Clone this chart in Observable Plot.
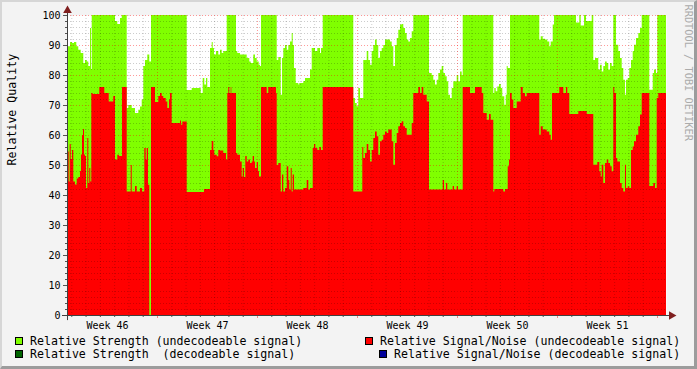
<!DOCTYPE html>
<html><head><meta charset="utf-8">
<script src="https://cdn.jsdelivr.net/npm/d3@7"></script>
<script src="https://cdn.jsdelivr.net/npm/@observablehq/plot@0.6"></script>
<style>
html,body{margin:0;padding:0;background:#F3F3F3;}
#wrap{position:relative;width:697px;height:369px;background:#F3F3F3;overflow:hidden;font-family:"DejaVu Sans Mono",monospace;}
#chart{position:absolute;left:0;top:0;}
#frame{position:absolute;left:0;top:0;width:697px;height:369px;box-sizing:border-box;border-top:2px solid #D6D6D6;border-left:2px solid #D6D6D6;border-right:3px solid #9C9C9C;border-bottom:3px solid #9C9C9C;pointer-events:none;}
.lg{position:absolute;font-size:11.6px;line-height:14px;white-space:pre;color:#000;}
.bx{position:absolute;width:6px;height:6px;border:1px solid #000;}
</style></head>
<body>
<div id="wrap">
  <div id="chart"></div>
  <div class="bx" style="left:15px;top:337px;background:#80FF00"></div>
  <div class="lg" style="left:30px;top:334px">Relative Strength (undecodeable signal)</div>
  <div class="bx" style="left:15px;top:350px;background:#006400"></div>
  <div class="lg" style="left:30px;top:347px">Relative Strength  (decodeable signal)</div>
  <div class="bx" style="left:365px;top:337px;background:#FF0000"></div>
  <div class="lg" style="left:380px;top:334px">Relative Signal/Noise (undecodeable signal)</div>
  <div class="bx" style="left:379px;top:350px;background:#000099"></div>
  <div class="lg" style="left:394px;top:347px">Relative Signal/Noise (decodeable signal)</div>
  <div id="frame"></div>
</div>
<script>
// time in days since Monday of week 46; values in percent
const strength = [[0.70,87],[0.77,89.6],[0.91,91],[1.05,90.7],[1.19,91],[1.35,89.6],[1.49,88.4],[1.66,87.3],[1.84,84],[1.96,85],[2.08,84.5],[2.19,83],[2.31,95.7],[2.38,82],[2.43,100],[4.06,98],[4.22,97],[4.41,99],[4.53,100],[4.88,69],[4.99,70],[5.23,69],[5.46,67.3],[5.69,68.4],[5.81,69.5],[5.93,71.8],[6.04,83],[6.16,85],[6.32,86.8],[6.46,84.5],[6.58,100],[9.08,75],[9.43,75.7],[10.06,74],[10.20,79],[10.31,76.8],[10.43,79],[10.52,76],[10.71,89],[10.83,91],[10.90,89],[10.99,86.8],[11.13,88],[11.29,86.8],[11.41,88.4],[11.53,87.3],[11.64,88],[11.88,100],[12.53,88],[12.62,87.3],[12.81,86.8],[13.28,85.7],[13.46,84.5],[13.56,84],[13.74,86.8],[13.86,85.7],[13.98,84.5],[14.12,83.4],[14.21,83],[14.28,100],[15.38,85],[15.49,86],[15.66,73.4],[15.75,85.7],[15.84,89],[15.96,90],[16.08,88.4],[16.19,90],[16.31,91.2],[16.43,94],[16.50,90],[16.59,82.3],[16.71,77.3],[16.89,76.8],[16.96,77.3],[17.24,78],[17.36,79],[17.59,79],[17.71,81.8],[17.83,89],[18.06,88],[18.22,89],[18.41,87.3],[18.48,89],[18.60,100],[20.74,72.3],[20.86,70.7],[20.98,69.6],[21.09,75.7],[21.21,72.3],[21.44,85],[21.68,88],[21.79,85],[21.91,83.4],[22.03,88],[22.14,90],[22.26,91.8],[22.38,90],[22.49,85.7],[22.61,88],[22.73,89],[22.84,90],[22.96,91.8],[23.31,91.2],[23.43,89.6],[23.54,83],[23.66,90],[23.78,92.3],[23.89,95.1],[24.01,96.8],[24.13,97],[24.24,95.7],[24.36,94],[24.48,91.8],[24.59,91.2],[24.71,92.3],[24.83,94.6],[24.94,100],[26.04,80.7],[26.23,80],[26.34,78.4],[26.46,76.8],[26.58,78.4],[26.69,80.7],[26.81,81.8],[26.93,83],[27.04,80.7],[27.16,79.6],[27.28,77.9],[27.39,73.4],[27.51,72.3],[27.63,75.7],[27.74,77.9],[27.98,80],[28.09,77.9],[28.21,81.2],[28.33,80],[28.40,100],[30.54,74],[30.61,75.7],[30.71,74.6],[30.82,76.2],[30.94,77],[31.06,75.7],[31.17,72.9],[31.31,70.1],[31.41,73.4],[31.48,83],[31.55,82.3],[31.71,100],[33.76,91.8],[33.86,92.9],[34.00,92.1],[34.16,91.8],[34.32,91.2],[34.46,89.6],[34.56,91.2],[34.70,96.8],[34.79,100],[36.33,97.5],[36.56,100],[36.66,96.5],[36.89,100],[37.03,98],[37.43,100],[37.54,85],[37.66,85.7],[37.89,81.8],[38.01,83.4],[38.13,81.2],[38.24,83],[38.36,84.5],[38.48,84],[38.59,81.8],[38.71,84],[38.83,83],[38.94,100],[39.13,90.1],[39.29,88],[39.41,85.7],[39.53,82.3],[39.64,78.4],[39.76,73.4],[39.83,78.4],[39.95,79],[40.06,82.3],[40.18,85],[40.30,88],[40.39,90.1],[40.53,92.3],[40.69,94],[40.81,95.7],[40.93,100],[41.46,75.1],[41.70,80.7],[41.79,81.8],[41.93,80.7],[42.02,100],[42.63,100]];

const snr = [[0.70,54.5],[0.82,44.5],[0.89,57],[0.96,52],[1.05,55],[1.14,44.5],[1.26,43.5],[1.38,45.5],[1.49,46],[1.61,48],[1.68,53.5],[1.75,60],[1.82,62],[1.89,53.5],[1.96,53],[2.03,42.3],[2.12,59],[2.19,44],[2.26,49],[2.33,44.5],[2.40,74],[2.50,73.7],[2.96,76],[3.31,74],[3.62,71.2],[3.94,73],[4.06,51.8],[4.22,53.4],[4.34,53],[4.55,76],[4.88,41.2],[5.16,50],[5.23,41.2],[5.46,43],[5.58,41.2],[5.81,42.3],[5.95,41.2],[6.11,55.7],[6.21,51.8],[6.28,55.7],[6.37,43.4],[6.46,0],[6.58,76],[6.86,71],[7.09,73],[7.21,74],[7.33,73],[7.44,72.3],[7.61,71.2],[7.72,69],[7.84,71.8],[7.91,74],[8.03,64],[8.61,64.8],[8.68,63.4],[8.77,64.5],[9.08,41],[10.29,42],[10.71,55],[10.83,58],[10.94,55],[11.01,53.4],[11.18,52.9],[11.29,55],[11.41,54.8],[11.64,54],[11.83,51.8],[11.92,74],[11.99,76],[12.06,74],[12.16,76],[12.20,74],[12.53,54],[12.62,53.4],[12.81,51.2],[12.93,46.2],[13.00,49],[13.09,46],[13.18,53],[13.28,51.2],[13.39,51.8],[13.51,50.7],[13.63,51.2],[13.70,53],[13.79,51.2],[13.86,49],[13.98,51],[14.07,48],[14.14,46.2],[14.28,76],[14.68,74],[14.79,76],[15.33,74],[15.38,50],[15.49,50.7],[15.66,41.2],[15.75,46.8],[15.84,41.2],[15.96,42.3],[16.08,49.6],[16.19,45],[16.26,41.8],[16.36,49],[16.43,41.2],[16.50,46.8],[16.59,41.8],[17.24,42.3],[17.48,45],[17.59,41.8],[17.71,42.3],[17.90,55.7],[17.99,57],[18.08,55.7],[18.22,55],[18.36,56],[18.48,55],[18.60,76],[20.74,41.2],[21.37,56],[21.44,52.3],[21.56,54],[21.68,57],[21.79,55],[21.91,51.2],[22.03,55],[22.14,59],[22.26,61.2],[22.38,59.6],[22.49,53.4],[22.61,57.9],[22.73,58.4],[22.84,60.1],[22.96,61.2],[23.08,60.7],[23.19,61.8],[23.43,57.9],[23.54,50.1],[23.66,57.3],[23.78,60.7],[23.89,62.9],[24.01,64],[24.13,64.6],[24.24,62.9],[24.36,62.3],[24.48,60.1],[24.83,64],[24.94,74],[25.29,76],[25.41,74],[25.53,76],[25.64,73.4],[25.88,71.2],[26.04,41.8],[27.00,45],[27.09,41.8],[27.23,44],[27.32,41.8],[27.70,43],[27.79,41.8],[27.98,43],[28.07,41.8],[28.40,76],[28.91,74],[29.26,76],[29.73,74],[29.84,67.3],[30.08,65.1],[30.24,67],[30.36,65.1],[30.54,41.2],[30.61,42],[31.24,41.2],[31.36,42],[31.55,49.6],[31.64,51.8],[31.71,74],[31.83,71.8],[31.94,69],[32.18,71.2],[32.46,76],[32.60,74],[32.76,72.9],[32.88,74],[33.76,60.1],[33.86,62.9],[34.00,61.8],[34.28,61.2],[34.46,60.1],[34.56,58.4],[34.65,74],[35.16,76],[35.44,74],[35.63,76],[35.72,74],[35.86,67],[36.49,68],[37.08,67],[37.54,50.1],[37.82,51],[37.96,47.9],[38.06,46.2],[38.13,50.1],[38.24,44],[38.36,50.7],[38.48,51.8],[38.59,50.7],[38.71,49.6],[38.83,47.9],[38.94,76],[39.01,74],[39.13,52.3],[39.22,51.2],[39.41,44],[39.53,42.3],[39.64,41.2],[39.76,50.1],[39.83,42.3],[39.95,42.9],[40.06,42.3],[40.18,55],[40.30,56.2],[40.39,57.9],[40.53,60.1],[40.69,62.9],[40.81,66.8],[40.93,74],[41.46,43],[41.74,44],[41.86,42.3],[41.98,72.3],[42.09,74],[42.63,74]];

const xDomain = [0.70, 42.63];
const yTicks = [0,10,20,30,40,50,60,70,80,90,100];
const yMinor = d3.range(0, 101, 2);
const weekLabels = ["Week 46","Week 47","Week 48","Week 49","Week 50","Week 51"];
const weekCenters = [3.5,10.5,17.5,24.5,31.5,38.5];
const weekBounds = [7,14,21,28,35,42];
const dayTicks = d3.range(1, 43).filter(d => d % 7 !== 0);
const yGridMinor = yMinor.filter(d => d % 10 !== 0);
const yGridMajor = yTicks.filter(d => d > 0);

const FONT = "DejaVu Sans Mono";
const noText = () => "";
const chart = Plot.plot({
  width: 697, height: 332,
  marginLeft: 67, marginRight: 31, marginTop: 15, marginBottom: 17,
  x: {domain: xDomain, axis: null},
  y: {domain: [0, 100], axis: null},
  style: {fontFamily: FONT, fontSize: "10px", background: "transparent", overflow: "visible", color: "#000"},
  marks: [
    Plot.frame({fill: "#FFFFFF", stroke: null}),
    Plot.areaY(strength, {x: d => d[0], y: d => d[1], curve: "step-after", fill: "#80FF00"}),
    Plot.areaY(snr, {x: d => d[0], y: d => d[1], curve: "step-after", fill: "#FF0000"}),
    Plot.ruleY(yGridMinor, {stroke: "#000", strokeOpacity: 0.2, strokeDasharray: "1,2"}),
    Plot.ruleX(dayTicks, {stroke: "#000", strokeOpacity: 0.2, strokeDasharray: "1,2"}),
    Plot.ruleY(yGridMajor, {stroke: "#FF0000", strokeOpacity: 0.4, strokeDasharray: "1,2"}),
    Plot.ruleX(weekBounds, {stroke: "#FF0000", strokeOpacity: 0.4, strokeDasharray: "1,2"}),
    Plot.axisY(yMinor, {tickSize: 2, tickFormat: noText, label: null, stroke: "#555"}),
    Plot.axisY(yTicks, {tickSize: 4, tickPadding: 3, label: null, stroke: "#555", fill: "#000", fontSize: 10}),
    Plot.axisX(dayTicks, {tickSize: 2, tickFormat: noText, label: null, stroke: "#555"}),
    Plot.axisX(weekBounds, {tickSize: 3, tickFormat: noText, label: null, stroke: "#E88"}),
    Plot.text(weekLabels, {x: (d, i) => weekCenters[i], frameAnchor: "bottom", dy: 6, lineAnchor: "top", fill: "#000", fontSize: 10}),
    Plot.ruleY([0], {x1: xDomain[0] - 0.35, x2: xDomain[1] + 0.3, stroke: "#404040"}),
    Plot.ruleX([xDomain[0]], {y1: -1.7, y2: 101.5, stroke: "#404040"}),
    Plot.dot([0], {x: () => xDomain[1], y: () => 0, dx: 5, symbol: "triangle", rotate: 90, r: 3.2, fill: "#7F1F1F", stroke: null}),
    Plot.dot([0], {x: () => xDomain[0], y: () => 100, dy: -5, symbol: "triangle", r: 3.2, fill: "#7F1F1F", stroke: null}),
    Plot.text(["Relative Quality"], {frameAnchor: "left", rotate: -90, dx: -52, lineAnchor: "bottom", fontSize: 11.6, fill: "#000"}),
    Plot.text(["RRDTOOL / TOBI OETIKER"], {frameAnchor: "top-right", rotate: 90, dx: 22, dy: -11, textAnchor: "start", lineAnchor: "middle", fontSize: 10.3, fill: "#ABABAB"})
  ]
});
document.getElementById("chart").appendChild(chart);
</script>
</body></html>
